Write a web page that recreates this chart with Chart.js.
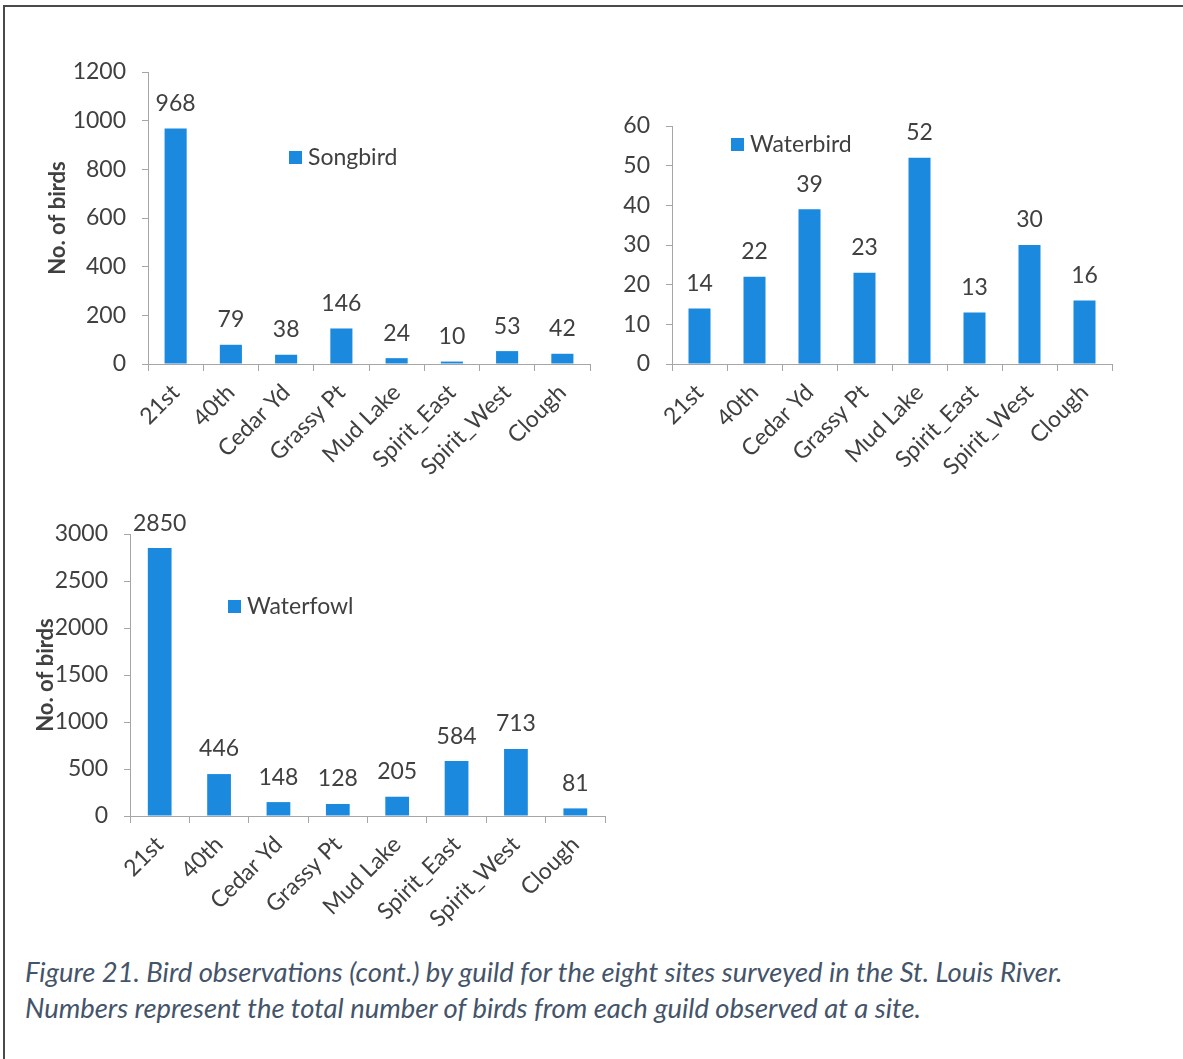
<!DOCTYPE html>
<html>
<head>
<meta charset="utf-8">
<script src="https://cdn.jsdelivr.net/npm/chart.js"></script>
<style>
  html, body { margin: 0; padding: 0; background: #fff; }
  body { width: 1183px; height: 1059px; position: relative; overflow: hidden; font-family: Lato, sans-serif; }
  .frame { position: absolute; left: 3px; top: 5px; right: 0; bottom: 0; border-top: 2px solid #4a4a4a; border-left: 2px solid #4a4a4a; }
  .box { position: absolute; }
  .legend { position: absolute; font-size: 23px; color: #404040; white-space: nowrap; line-height: 26px; }
  .legend i { display: inline-block; width: 13px; height: 13px; margin-right: 6px; vertical-align: 1px; }
  .caption { position: absolute; left: 25px; top: 954px; font-size: 27.4px; line-height: 36px; font-style: italic; color: #44546a; white-space: nowrap; }
</style>
</head>
<body>
<div class="frame"></div>

<div class="box" style="left:0;top:0;width:620px;height:500px"><canvas id="songbirdChart"></canvas></div>
<div class="box" style="left:620px;top:0;width:563px;height:500px"><canvas id="waterbirdChart"></canvas></div>
<div class="box" style="left:0;top:500px;width:640px;height:440px"><canvas id="waterfowlChart"></canvas></div>

<div class="legend" id="songbirdLegend" style="left:289px;top:143px"></div>
<div class="legend" id="waterbirdLegend" style="left:731px;top:130px"></div>
<div class="legend" id="waterfowlLegend" style="left:228px;top:592px"></div>

<div class="caption">Figure 21. Bird observations (cont.) by guild for the eight sites surveyed in the St. Louis River.<br>Numbers represent the total number of birds from each guild observed at a site.</div>

<script>
const sites = ['21st', '40th', 'Cedar Yd', 'Grassy Pt', 'Mud Lake', 'Spirit_East', 'Spirit_West', 'Clough'];
const songbird = [968, 79, 38, 146, 24, 10, 53, 42];
const waterbird = [14, 22, 39, 23, 52, 13, 30, 16];
const waterfowl = [2850, 446, 148, 128, 205, 584, 713, 81];

const barBlue = '#1b8ade';
const axisGray = '#a6a6a6';
const textGray = '#404040';

Chart.defaults.font.family = 'Lato';
Chart.defaults.font.size = 23;
Chart.defaults.color = textGray;

// writes the count above every bar
const valueLabels = {
  id: 'valueLabels',
  afterDatasetsDraw(chart) {
    const ctx = chart.ctx;
    const values = chart.data.datasets[0].data;
    ctx.save();
    ctx.font = '23px Lato';
    ctx.fillStyle = textGray;
    ctx.textAlign = 'center';
    ctx.textBaseline = 'middle';
    chart.getDatasetMeta(0).data.forEach(function (bar, i) {
      ctx.fillText(values[i], bar.x, bar.y - 25);
    });
    ctx.restore();
  }
};

function makeChart(id, label, values, yMax, step, yTitle, pad, yWidth, xHeight) {
  const chart = new Chart(document.getElementById(id), {
    type: 'bar',
    data: {
      labels: sites,
      datasets: [{
        label: label,
        data: values,
        backgroundColor: barBlue,
        barPercentage: 0.4,
        categoryPercentage: 1
      }]
    },
    options: {
      responsive: true,
      maintainAspectRatio: false,
      animation: false,
      layout: { padding: pad },
      plugins: {
        legend: { display: false },
        tooltip: { enabled: false }
      },
      scales: {
        x: {
          grid: { drawOnChartArea: false, tickLength: 7, color: axisGray, offset: true },
          border: { color: axisGray },
          ticks: { minRotation: 45, maxRotation: 45, autoSkip: false, padding: 8 },
          afterFit: function (scale) { scale.height = xHeight; }
        },
        y: {
          min: 0,
          max: yMax,
          ticks: {
            stepSize: step,
            padding: 16,
            callback: function (v) { return String(v); }
          },
          grid: { drawOnChartArea: false, tickLength: 6, color: axisGray },
          border: { color: axisGray },
          title: {
            display: yTitle !== '',
            text: yTitle,
            color: textGray,
            font: { size: 22, weight: 'bold' },
            padding: { top: 4, bottom: 4 }
          },
          afterFit: function (scale) { scale.width = yWidth; }
        }
      }
    },
    plugins: [valueLabels]
  });

  // html legend from the dataset
  const ds = chart.data.datasets[0];
  document.getElementById(id.replace('Chart', 'Legend')).innerHTML =
    '<i style="background:' + ds.backgroundColor + '"></i>' + ds.label;
  return chart;
}

makeChart('songbirdChart', 'Songbird', songbird, 1200, 200, 'No. of birds',
  { left: 41, top: 72, right: 30, bottom: 0 }, 107, 136);
makeChart('waterbirdChart', 'Waterbird', waterbird, 60, 10, '',
  { left: 0, top: 126, right: 71, bottom: 0 }, 52, 136);
makeChart('waterfowlChart', 'Waterfowl', waterfowl, 3000, 500, 'No. of birds',
  { left: 29, top: 34, right: 35, bottom: 0 }, 101, 124);
</script>
</body>
</html>
